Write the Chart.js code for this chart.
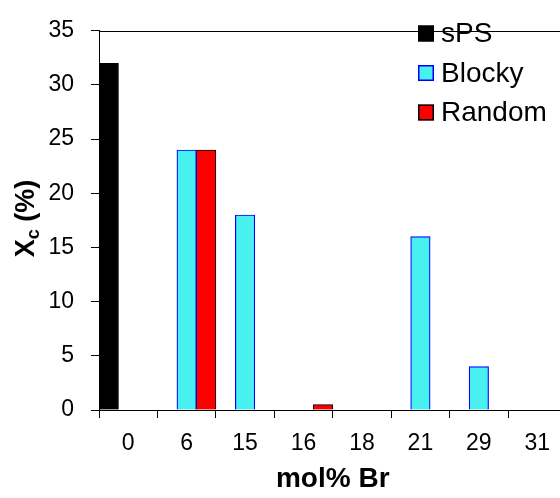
<!DOCTYPE html>
<html>
<head>
<meta charset="utf-8">
<script src="https://cdn.jsdelivr.net/npm/chart.js@4.4.1/dist/chart.umd.min.js"></script>
<style>
  html, body { margin: 0; padding: 0; overflow: hidden; background: #fff; }
  canvas { display: block; }
</style>
</head>
<body>
<canvas id="chart" width="580" height="498"></canvas>
<script>
// mol% Br categories
const categories = ['0', '6', '15', '16', '18', '21', '29', '31'];

// Crystallinity Xc (%) per series
const spsValues    = [32, null, null, null, null, null, null, null];
const blockyValues = [null, 24, 18, null, null, 16, 4, null];
const randomValues = [null, 24, null, 0.5, null, null, null, null];

const yMin = 0, yMax = 35, yStep = 5;

const FONT = '"Liberation Sans", Arial, sans-serif';

// Plot frame (top and right edges)
const framePlugin = {
  id: 'frame',
  afterDatasetsDraw(chart) {
    const { ctx, chartArea: a } = chart;
    ctx.save();
    ctx.strokeStyle = '#000';
    ctx.lineWidth = 1;
    ctx.beginPath();
    ctx.moveTo(a.left, Math.round(a.top) + 0.5);
    ctx.lineTo(a.right, Math.round(a.top) + 0.5);
    ctx.lineTo(a.right, a.bottom);
    ctx.stroke();
    ctx.restore();
  }
};

// Y-axis title with subscript: X_c (%)
const yTitlePlugin = {
  id: 'yTitle',
  afterDraw(chart) {
    const { ctx, chartArea: a } = chart;
    const big = 'bold 27px ' + FONT;
    const small = 'bold 18px ' + FONT;
    ctx.save();
    ctx.font = big;
    const wX = ctx.measureText('X').width;
    const wRest = ctx.measureText(' (%)').width;
    ctx.font = small;
    const wc = ctx.measureText('c').width;
    const total = wX + wc + wRest;
    const cy = (a.top + a.bottom) / 2 - 2;
    ctx.translate(34, cy);
    ctx.rotate(-Math.PI / 2);
    ctx.fillStyle = '#000';
    ctx.textBaseline = 'alphabetic';
    let x = -total / 2;
    ctx.font = big;
    ctx.fillText('X', x, 0);
    x += wX;
    ctx.font = small;
    ctx.fillText('c', x, 5);
    x += wc;
    ctx.font = big;
    ctx.fillText(' (%)', x, 0);
    ctx.restore();
  }
};

// Legend drawn inside the plot, top right
const legendPlugin = {
  id: 'insideLegend',
  afterDraw(chart) {
    const ctx = chart.ctx;
    ctx.save();
    chart.data.datasets.forEach((ds, i) => {
      const cy = 33.5 + i * 39.5;
      ctx.fillStyle = ds.backgroundColor;
      ctx.fillRect(418, cy - 8, 16, 16);
      ctx.strokeStyle = ds.borderColor;
      ctx.lineWidth = 1.5;
      ctx.strokeRect(418.75, cy - 7.25, 14.5, 14.5);
      ctx.fillStyle = '#000';
      ctx.font = '28px ' + FONT;
      ctx.textBaseline = 'middle';
      ctx.textAlign = 'left';
      ctx.fillText(ds.label, 441, cy + 1);
    });
    ctx.restore();
  }
};

new Chart(document.getElementById('chart'), {
  type: 'bar',
  data: {
    labels: categories,
    datasets: [
      { label: 'sPS', data: spsValues, backgroundColor: '#000000', borderColor: '#000000', borderWidth: 1 },
      { label: 'Blocky', data: blockyValues, backgroundColor: '#48F0F0', borderColor: '#0000FF', borderWidth: 1.2 },
      { label: 'Random', data: randomValues, backgroundColor: '#FF0000', borderColor: '#000000', borderWidth: 1 }
    ]
  },
  options: {
    responsive: false,
    devicePixelRatio: 1,
    animation: false,
    categoryPercentage: 1.0,
    barPercentage: 1.0,
    layout: { padding: { top: 16, right: 13.5, left: 0, bottom: 0 } },
    plugins: {
      legend: { display: false },
      tooltip: { enabled: false }
    },
    scales: {
      x: {
        grid: { display: true, drawOnChartArea: false, drawTicks: true, tickLength: 8, color: '#000', offset: true },
        border: { display: true, color: '#000', width: 1 },
        ticks: { color: '#000', font: { family: FONT, size: 23 }, padding: 12, maxRotation: 0 },
        title: { display: true, text: 'mol% Br', color: '#000', font: { family: FONT, size: 28, weight: 'bold' }, padding: { top: 0, bottom: 2 } },
        afterFit(scale) { scale.height = 88; }
      },
      y: {
        min: yMin, max: yMax,
        grid: { display: true, drawOnChartArea: false, drawTicks: true, tickLength: 8, color: '#000' },
        border: { display: true, color: '#000', width: 1 },
        ticks: { stepSize: yStep, color: '#000', font: { family: FONT, size: 23 }, padding: 17 },
        afterFit(scale) { scale.width = 99; }
      }
    }
  },
  plugins: [framePlugin, yTitlePlugin, legendPlugin]
});
</script>
</body>
</html>
